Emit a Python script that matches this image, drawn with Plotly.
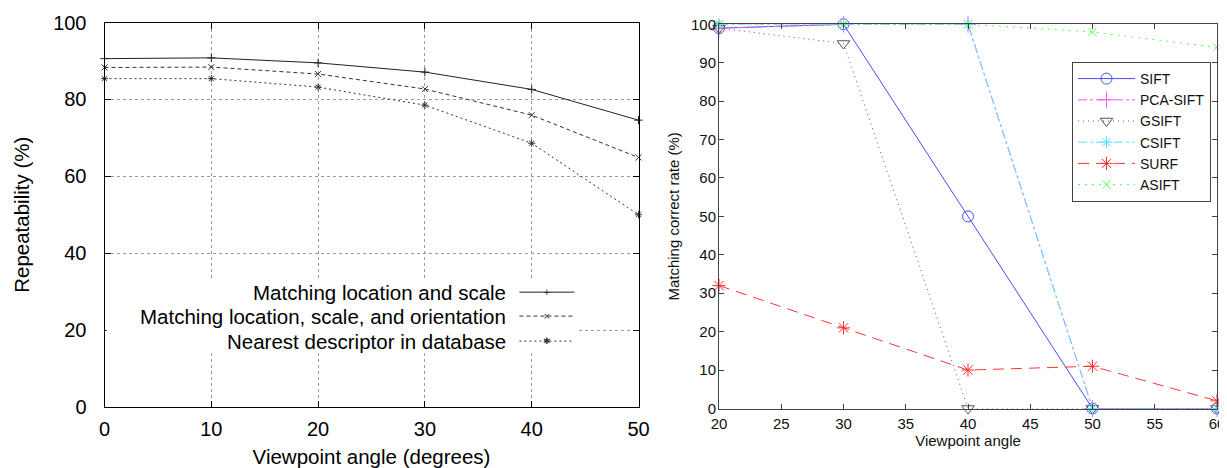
import plotly.graph_objects as go

# ---------------- Left chart data ----------------
left_angles = [0, 10, 20, 30, 40, 50]
left_names = ["Matching location and scale",
              "Matching location, scale, and orientation",
              "Nearest descriptor in database"]
loc_scale = [90.6, 90.8, 89.5, 87.1, 82.6, 74.6]
loc_scale_ori = [88.3, 88.4, 86.6, 82.7, 75.9, 64.9]
nearest_desc = [85.4, 85.4, 83.2, 78.5, 68.6, 50.0]
left_ticks_x = [0, 10, 20, 30, 40, 50]
left_ticks_y = [0, 20, 40, 60, 80, 100]

# ---------------- Right chart data ----------------
right_angles = [20, 30, 40, 50, 60]
right_names = ["SIFT", "PCA-SIFT", "GSIFT", "CSIFT", "SURF", "ASIFT"]
sift = [99, 100, 50, 0, 0]
pca_sift = [99, 100, 100, 0, 0]
gsift = [99, 95, 0, 0, 0]
csift = [100, 100, 100, 0, 0]
surf = [32, 21, 10, 11, 2]
asift = [100, 100, 100, 98, 94]
right_ticks_x = [20, 25, 30, 35, 40, 45, 50, 55, 60]
right_ticks_y = [0, 10, 20, 30, 40, 50, 60, 70, 80, 90, 100]

# The page body has an 8px margin, so the figure is sized to fill the rest
OFF = 8
W, H = 1227 - OFF, 468 - OFF
FONT = "Liberation Sans, Arial, sans-serif"


def px_x(p):
    return (p - OFF) / W


def px_y(p):
    return 1 - (p - OFF) / H


fig = go.Figure()

# Left traces
left_series = [loc_scale, loc_scale_ori, nearest_desc]
left_dash = ["solid", "4px,3px", "2px,3px"]
left_sym = ["cross-thin-open", "x-thin-open", "asterisk-open"]
left_col = ["#222222", "#333333", "#333333"]
for name, vals, d, s, c in zip(left_names, left_series, left_dash, left_sym, left_col):
    fig.add_trace(go.Scatter(
        x=left_angles, y=vals, name=name, mode="lines+markers",
        line=dict(color=c, width=1, dash=d),
        marker=dict(symbol=s, size=6, line=dict(color=c, width=1)),
        xaxis="x", yaxis="y", showlegend=False, cliponaxis=False))

# Right traces
right_series = [sift, pca_sift, gsift, csift, surf, asift]
right_col = ["#4a4aff", "#ff55ff", "#555555", "#55e6ff", "#ff3333", "#55ff55"]
right_dash = ["solid", "dashdot", "1px,4px", "dashdot", "11px,7px", "2px,5px"]
right_sym = ["circle-open", "cross-thin-open", "triangle-down-open",
             "asterisk-open", "asterisk-open", "x-thin-open"]
right_size = [11, 12, 11, 10, 11, 8]
for name, vals, c, d, s, sz in zip(right_names, right_series, right_col,
                                   right_dash, right_sym, right_size):
    fig.add_trace(go.Scatter(
        x=right_angles, y=vals, name=name, mode="lines+markers",
        line=dict(color=c, width=1, dash=d),
        marker=dict(symbol=s, size=sz, color=c, line=dict(color=c, width=1)),
        xaxis="x2", yaxis="y2", showlegend=True, cliponaxis=False))

# ---------------- Axes ----------------
left_dom_x = [px_x(104.5), px_x(638.5)]
left_dom_y = [px_y(407), px_y(22.5)]
right_dom_x = [px_x(719), px_x(1217)]
right_dom_y = [px_y(408.5), px_y(24.3)]

common_left = dict(showline=True, linecolor="black", linewidth=1, mirror="allticks",
                   ticks="inside", ticklen=6, tickcolor="black", zeroline=False,
                   showgrid=True, gridcolor="#9a9a9a", griddash="dot", gridwidth=1,
                   automargin=False,
                   tickfont=dict(family=FONT, size=20, color="black"))
fig.update_layout(
    xaxis=dict(domain=left_dom_x, range=[0, 50], tickvals=left_ticks_x,
               anchor="y", ticklabelstandoff=4,
               title=dict(text="Viewpoint angle (degrees)", standoff=18,
                          font=dict(family=FONT, size=20.5, color="black")),
               **common_left),
    yaxis=dict(domain=left_dom_y, range=[0, 100], tickvals=left_ticks_y,
               anchor="x", ticklabelstandoff=13,
               title=dict(text="Repeatability (%)", standoff=17,
                          font=dict(family=FONT, size=20.5, color="black")),
               **common_left),
)

common_right = dict(showline=True, linecolor="#444444", linewidth=1, mirror="allticks",
                    ticks="inside", ticklen=5, tickcolor="#444444", zeroline=False,
                    showgrid=False, automargin=False,
                    tickfont=dict(family=FONT, size=15, color="#111111"))
fig.update_layout(
    xaxis2=dict(domain=right_dom_x, range=[20, 60], tickvals=right_ticks_x,
                anchor="y2", ticklabelstandoff=1,
                title=dict(text="Viewpoint angle", standoff=4,
                           font=dict(family=FONT, size=15, color="#111111")),
                **common_right),
    yaxis2=dict(domain=right_dom_y, range=[0, 100], tickvals=right_ticks_y,
                anchor="x2", ticklabelstandoff=-1,
                title=dict(text="Matching correct rate (%)", standoff=7,
                           font=dict(family=FONT, size=15, color="#111111")),
                **common_right),
)

# ---------------- Left custom legend (gnuplot-style key) ----------------
shapes = [dict(type="rect", xref="x domain", yref="y domain",
               x0=0.004, x1=0.885, y0=0.148, y1=0.33,
               fillcolor="white", line=dict(width=0), layer="above")]
annotations = []
rows_y = [0.2987, 0.2364, 0.1714]
glyphs = ["+", "×", "✱"]
for name, ry, d, g, c in zip(left_names, rows_y, left_dash, glyphs, left_col):
    annotations.append(dict(xref="x domain", yref="y domain", x=0.7556, y=ry,
                            text=name, showarrow=False, xanchor="right",
                            yanchor="middle",
                            font=dict(family=FONT, size=20.5, color="black")))
    shapes.append(dict(type="line", xref="x domain", yref="y domain",
                       x0=0.777, x1=0.880, y0=ry, y1=ry,
                       line=dict(color=c, width=1, dash=d), layer="above"))
    annotations.append(dict(xref="x domain", yref="y domain", x=0.8285, y=ry,
                            text=g, showarrow=False, xanchor="center",
                            yanchor="middle",
                            font=dict(family="DejaVu Sans", size=9, color=c)))

fig.update_layout(
    width=W, height=H, margin=dict(l=0, r=0, t=0, b=0, autoexpand=False),
    paper_bgcolor="white", plot_bgcolor="white",
    shapes=shapes, annotations=annotations,
    legend=dict(x=px_x(1072), y=px_y(62), xanchor="left", yanchor="top",
                bgcolor="white", bordercolor="#444444", borderwidth=1,
                font=dict(family=FONT, size=14, color="#111111"),
                tracegroupgap=0, itemwidth=57),
    showlegend=True,
)

fig.write_html("out.html")
